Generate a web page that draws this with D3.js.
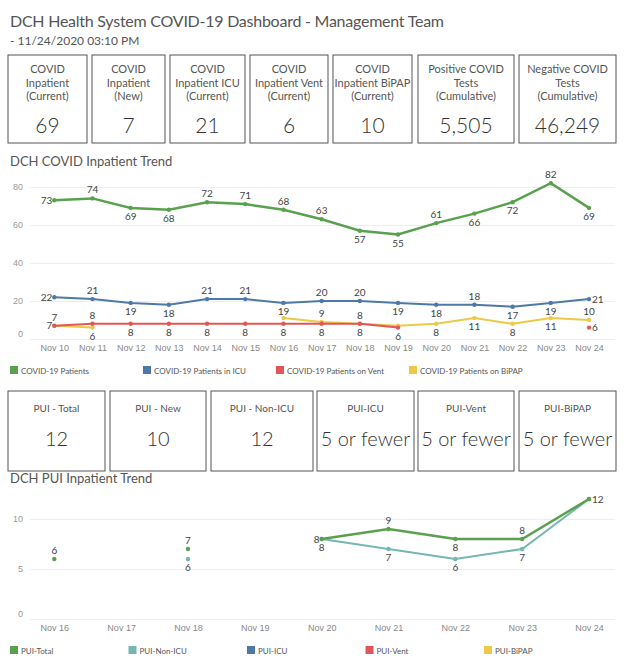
<!DOCTYPE html>
<html>
<head>
<meta charset="utf-8">
<script src="https://cdn.jsdelivr.net/npm/d3@7/dist/d3.min.js"></script>
<style>
  body { margin: 0; background: #fff; }
  svg { font-family: Lato, "Open Sans", sans-serif; }
</style>
</head>
<body>
<div id="root"></div>
<script>
// ---- data ----
const kpiLabels = [
  ["COVID", "Inpatient", "(Current)"],
  ["COVID", "Inpatient", "(New)"],
  ["COVID", "Inpatient ICU", "(Current)"],
  ["COVID", "Inpatient Vent", "(Current)"],
  ["COVID", "Inpatient BiPAP", "(Current)"],
  ["Positive COVID", "Tests", "(Cumulative)"],
  ["Negative COVID", "Tests", "(Cumulative)"]
];
const kpiValues = ["69", "7", "21", "6", "10", "5,505", "46,249"];

const puiLabels = ["PUI - Total", "PUI - New", "PUI - Non-ICU", "PUI-ICU", "PUI-Vent", "PUI-BiPAP"];
const puiValues = ["12", "10", "12", "5 or fewer", "5 or fewer", "5 or fewer"];

const days = ["Nov 10", "Nov 11", "Nov 12", "Nov 13", "Nov 14", "Nov 15", "Nov 16", "Nov 17",
              "Nov 18", "Nov 19", "Nov 20", "Nov 21", "Nov 22", "Nov 23", "Nov 24"];
const covidPatients = [73, 74, 69, 68, 72, 71, 68, 63, 57, 55, 61, 66, 72, 82, 69];
const covidIcu      = [22, 21, 19, 18, 21, 21, 19, 20, 20, 19, 18, 18, 17, 19, 21];
const covidVent     = [7, 8, 8, 8, 8, 8, 8, 8, 8, 6, null, null, null, null, 6];
const covidBipap    = [7, 6, null, null, null, null, 11, 9, 8, 7, 8, 11, 8, 11, 10];
const covidTicks = [0, 20, 40, 60, 80];

const puiDays = ["Nov 16", "Nov 17", "Nov 18", "Nov 19", "Nov 20", "Nov 21", "Nov 22", "Nov 23", "Nov 24"];
const puiTotal  = [6, null, 7, null, 8, 9, 8, 8, 12];
const puiNonIcu = [null, null, 6, null, 8, 7, 6, 7, 12];
const puiTicks = [0, 5, 10];

// where each mark label sits: a=above b=below l=left r=right n=none
const covidPatientsPos = "labbaaaabbabbab";
const covidIcuPos      = "labbaabaabbabbr";
const covidVentPos     = "labbbbbbbbnnnnr";
const covidBipapPos    = "abnnnnnaanbbbba";
const puiTotalPos  = "ananlabar";
const puiNonIcuPos = "nnbnbbbbn";

// ---- layout ----
const W = 624, H = 662;
const C = { green: "#59a14f", blue: "#4e79a7", red: "#e15759", yellow: "#edc948", teal: "#76b7b2" };

const svg = d3.select("#root").append("svg").attr("width", W).attr("height", H);

svg.append("text").attr("x", 10).attr("y", 27)
  .attr("font-size", 16).attr("fill", "#555").attr("textLength", 434)
  .text("DCH Health System COVID-19 Dashboard - Management Team");
svg.append("text").attr("x", 10).attr("y", 45)
  .attr("font-size", 12).attr("fill", "#555")
  .text("- 11/24/2020 03:10 PM");

// KPI boxes
const kpiEdges = [[8, 87], [92, 165], [170, 245], [250, 328], [333, 412], [418, 514], [519, 616]];
const kpi = svg.selectAll("g.kpi").data(kpiValues).join("g").attr("class", "kpi")
  .attr("transform", (d, i) => `translate(${kpiEdges[i][0]},55)`);
kpi.append("rect")
  .attr("width", (d, i) => kpiEdges[i][1] - kpiEdges[i][0]).attr("height", 88)
  .attr("fill", "none").attr("stroke", "#555").attr("stroke-width", 1);
kpi.each(function (d, i) {
  const g = d3.select(this), w = kpiEdges[i][1] - kpiEdges[i][0];
  kpiLabels[i].forEach((t, j) => {
    g.append("text").attr("x", w / 2).attr("y", 18 + j * 13.5)
      .attr("text-anchor", "middle").attr("font-size", 11).attr("fill", "#555").text(t);
  });
  g.append("text").attr("x", w / 2).attr("y", 78)
    .attr("text-anchor", "middle").attr("font-size", 21).attr("font-weight", 300)
    .attr("fill", "#333").text(d);
});

// PUI boxes
const puiEdges = [[8, 105], [110, 206], [211, 313], [317, 414], [418, 514], [519, 616]];
const pb = svg.selectAll("g.pui").data(puiValues).join("g").attr("class", "pui")
  .attr("transform", (d, i) => `translate(${puiEdges[i][0]},391)`);
pb.append("rect")
  .attr("width", (d, i) => puiEdges[i][1] - puiEdges[i][0]).attr("height", 80)
  .attr("fill", "none").attr("stroke", "#555");
pb.append("text").attr("x", (d, i) => (puiEdges[i][1] - puiEdges[i][0]) / 2).attr("y", 21)
  .attr("text-anchor", "middle").attr("font-size", 10).attr("fill", "#555")
  .text((d, i) => puiLabels[i]);
pb.append("text").attr("x", (d, i) => (puiEdges[i][1] - puiEdges[i][0]) / 2).attr("y", 55)
  .attr("text-anchor", "middle").attr("font-size", 20).attr("font-weight", 300)
  .attr("fill", "#333").text(d => d);

function trend(opts) {
  const g = svg.append("g");
  g.append("text").attr("x", 10).attr("y", opts.titleY)
    .attr("font-size", 13).attr("fill", "#555").text(opts.title);

  const x = d3.scalePoint().domain(opts.days).range([54.3, 589]);
  const y = d3.scaleLinear().domain(opts.domain).range(opts.yRange);

  // gridlines
  g.append("g").attr("transform", "translate(30,0)")
    .call(d3.axisLeft(y).tickValues(opts.ticks).tickSize(-585).tickFormat(""))
    .call(a => a.select(".domain").remove())
    .call(a => a.selectAll("line").attr("stroke", "#eee"));

  // y labels
  const ya = g.append("g").attr("transform", "translate(23,0)")
    .call(d3.axisLeft(y).tickValues(opts.ticks).tickSize(0).tickPadding(0))
    .call(a => a.select(".domain").remove());
  ya.selectAll("text").attr("font-size", 9).attr("fill", "#999").attr("font-family", null);
  ya.selectAll(".tick").filter(d => d === 0).select("text").attr("dy", "-0.3em");

  // x labels
  const xa = g.append("g").attr("transform", `translate(0,${opts.xLabelY})`)
    .call(d3.axisBottom(x).tickSize(0).tickPadding(0))
    .call(a => a.select(".domain").remove());
  xa.selectAll("text").attr("font-size", 9).attr("fill", "#888").attr("font-family", null);

  opts.series.forEach(s => {
    const pts = s.values.map((v, i) => ({ day: opts.days[i], v, pos: s.pos[i] }));
    const line = d3.line().defined(d => d.v != null).x(d => x(d.day)).y(d => y(d.v));
    g.append("path").datum(pts).attr("d", line)
      .attr("fill", "none").attr("stroke", s.color).attr("stroke-width", s.width || 2);
    const valid = pts.filter(d => d.v != null);
    g.selectAll(null).data(valid).join("circle")
      .attr("cx", d => x(d.day)).attr("cy", d => y(d.v)).attr("r", 2.2).attr("fill", s.color);
    g.selectAll(null).data(valid.filter(d => d.pos !== "n")).join("text")
      .attr("x", d => x(d.day) + (d.pos === "l" ? -2 : d.pos === "r" ? 3 : 0))
      .attr("y", d => y(d.v) + (d.pos === "a" ? -5 : d.pos === "b" ? 12 : 3.5))
      .attr("text-anchor", d => d.pos === "l" ? "end" : d.pos === "r" ? "start" : "middle")
      .attr("font-size", 10).attr("fill", "#444").text(d => d.v);
  });

  // legend
  const lg = g.selectAll("g.leg").data(opts.legend).join("g")
    .attr("transform", (d, i) => `translate(${10 + i * opts.legendStep},${opts.legendY})`);
  lg.append("rect").attr("width", 8).attr("height", 8).attr("fill", d => d.color);
  lg.append("text").attr("x", 11).attr("y", 7.5).attr("font-size", 8).attr("fill", "#555").text(d => d.name);
}

trend({
  title: "DCH COVID Inpatient Trend", titleY: 166,
  days, domain: [0, 80], yRange: [339, 187], ticks: covidTicks, xLabelY: 345,
  series: [
    { values: covidBipap, pos: covidBipapPos, color: C.yellow },
    { values: covidVent, pos: covidVentPos, color: C.red },
    { values: covidIcu, pos: covidIcuPos, color: C.blue },
    { values: covidPatients, pos: covidPatientsPos, color: C.green, width: 2.5 }
  ],
  legend: [
    { name: "COVID-19 Patients", color: C.green },
    { name: "COVID-19 Patients in ICU", color: C.blue },
    { name: "COVID-19 Patients on Vent", color: C.red },
    { name: "COVID-19 Patients on BiPAP", color: C.yellow }
  ],
  legendStep: 133, legendY: 366
});

trend({
  title: "DCH PUI Inpatient Trend", titleY: 483,
  days: puiDays, domain: [0, 10], yRange: [619, 519], ticks: puiTicks, xLabelY: 625,
  series: [
    { values: puiNonIcu, pos: puiNonIcuPos, color: C.teal },
    { values: puiTotal, pos: puiTotalPos, color: C.green, width: 2.5 }
  ],
  legend: [
    { name: "PUI-Total", color: C.green },
    { name: "PUI-Non-ICU", color: C.teal },
    { name: "PUI-ICU", color: C.blue },
    { name: "PUI-Vent", color: C.red },
    { name: "PUI-BiPAP", color: C.yellow }
  ],
  legendStep: 118.5, legendY: 646
});
</script>
</body>
</html>
